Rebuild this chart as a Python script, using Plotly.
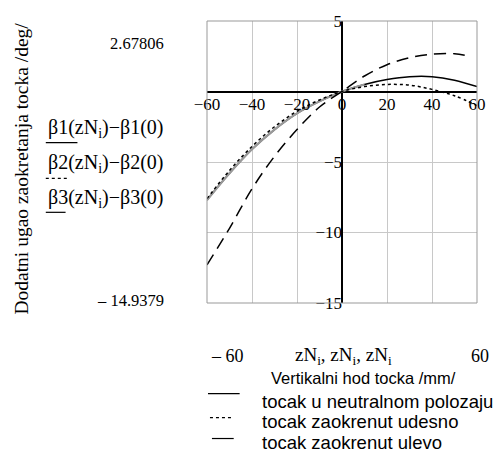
import plotly.graph_objects as go

# Data
zN = [-60, -50, -40, -30, -20, -10, 0, 10, 20, 30, 40, 50, 60]
beta1 = [-7.7, -5.8, -4.1, -2.7, -1.55, -0.7, 0.0, 0.5, 0.85, 1.05, 1.05, 0.8, 0.35]
beta2 = [-7.6, -5.6, -3.9, -2.5, -1.4, -0.6, 0.0, 0.35, 0.5, 0.45, 0.15, -0.3, -1.0]
zN3 = [-60, -50, -40, -30, -20, -10, 0, 10, 20, 30, 40, 50, 55]
beta3 = [-12.3, -9.7, -6.9, -4.6, -2.7, -1.1, 0.0, 1.1, 1.9, 2.4, 2.65, 2.68, 2.55]
xticks = [-60, -40, -20, 0, 20, 40, 60]
yticks = [5, -5, -10, -15]
ymax_label = "2.67806"
ymin_label = "– 14.9379"

W, H = 498, 454
L, R, T, B = 207, 480, 20, 303


def px(xp):
    return (xp - L) / (R - L)


def py(yp):
    return (B - yp) / (B - T)


SERIF = "Liberation Serif"
SANS = "Liberation Sans"

fig = go.Figure()
fig.add_trace(go.Scatter(x=zN, y=beta1, mode="lines", line=dict(color="black", width=1.5, shape="spline")))
fig.add_trace(go.Scatter(x=zN[:8], y=beta1[:8], mode="lines", line=dict(color="#9a9a9a", width=2.2, shape="spline")))
fig.add_trace(go.Scatter(x=zN, y=beta2, mode="lines", line=dict(color="black", width=1.5, dash="dot", shape="spline")))
fig.add_trace(go.Scatter(x=zN3, y=beta3, mode="lines", line=dict(color="black", width=1.5, dash="12px,7px", shape="spline")))

fig.update_layout(
    width=W, height=H,
    margin=dict(l=L, r=W - R, t=T, b=H - B),
    paper_bgcolor="white", plot_bgcolor="white",
    showlegend=False,
    font=dict(family=SERIF, size=17, color="black"),
    xaxis=dict(range=[-60, 60], tickvals=xticks, showgrid=True, gridcolor="#c8c8c8", gridwidth=1,
               zeroline=True, zerolinecolor="black", zerolinewidth=1.8, showline=False,
               anchor="free", position=0.75, ticks="", tickfont=dict(family=SERIF, size=17)),
    yaxis=dict(range=[-15, 5], tickvals=yticks, showgrid=True, gridcolor="#c8c8c8", gridwidth=1,
               zeroline=True, zerolinecolor="black", zerolinewidth=1.8, showline=False,
               anchor="free", position=0.5, ticks="", tickfont=dict(family=SERIF, size=17)),
)

fig.add_shape(type="rect", xref="paper", yref="paper", x0=0, x1=1, y0=0, y1=1,
              line=dict(color="#999999", width=1))

ann = []


def text(x, y, s, size=17, family=SERIF, xanchor="left", angle=0):
    ann.append(dict(x=px(x), y=py(y), xref="paper", yref="paper", text=s, showarrow=False,
                    xanchor=xanchor, yanchor="middle", textangle=angle,
                    font=dict(family=family, size=size, color="black")))


text(19, 168, "Dodatni ugao zaokretanja tocka /deg/", size=19.5, xanchor="center", angle=-90)
text(166, 43, ymax_label, size=16.5, xanchor="right")
text(166, 300, ymin_label, size=16.5, xanchor="right")
text(44, 128, "β1(zN<sub>i</sub>)−β1(0)", size=20)
text(44, 163, "β2(zN<sub>i</sub>)−β2(0)", size=20)
text(44, 198, "β3(zN<sub>i</sub>)−β3(0)", size=20)
text(228, 356, "– 60", size=18, xanchor="center")
text(345, 356, "zN<sub>i</sub>, zN<sub>i</sub>, zN<sub>i</sub>", size=19, xanchor="center")
text(494, 356, "60", size=18, xanchor="right")
text(365, 378, "Vertikalni hod tocka /mm/", size=16.5, family=SANS, xanchor="center")
text(261, 402, "tocak u neutralnom polozaju", size=18.5, family=SANS)
text(261, 422, "tocak zaokrenut udesno", size=18.5, family=SANS)
text(261, 443, "tocak zaokrenut ulevo", size=18.5, family=SANS)
fig.update_layout(annotations=ann)

# legend sample lines
for (x0, x1, yy, dash) in [(44, 76, 142, "solid"), (44, 68, 178, "dot"), (44, 64, 212, "solid"),
                           (208, 240, 394, "solid"), (210, 234, 418, "dot"), (212, 234, 439, "solid")]:
    fig.add_shape(type="line", xref="paper", yref="paper", x0=px(x0), x1=px(x1), y0=py(yy), y1=py(yy),
                  line=dict(color="black", width=1.2, dash=dash))

fig.write_html("out.html", config={"displayModeBar": False},
               post_script="document.body.style.margin='0px';")
